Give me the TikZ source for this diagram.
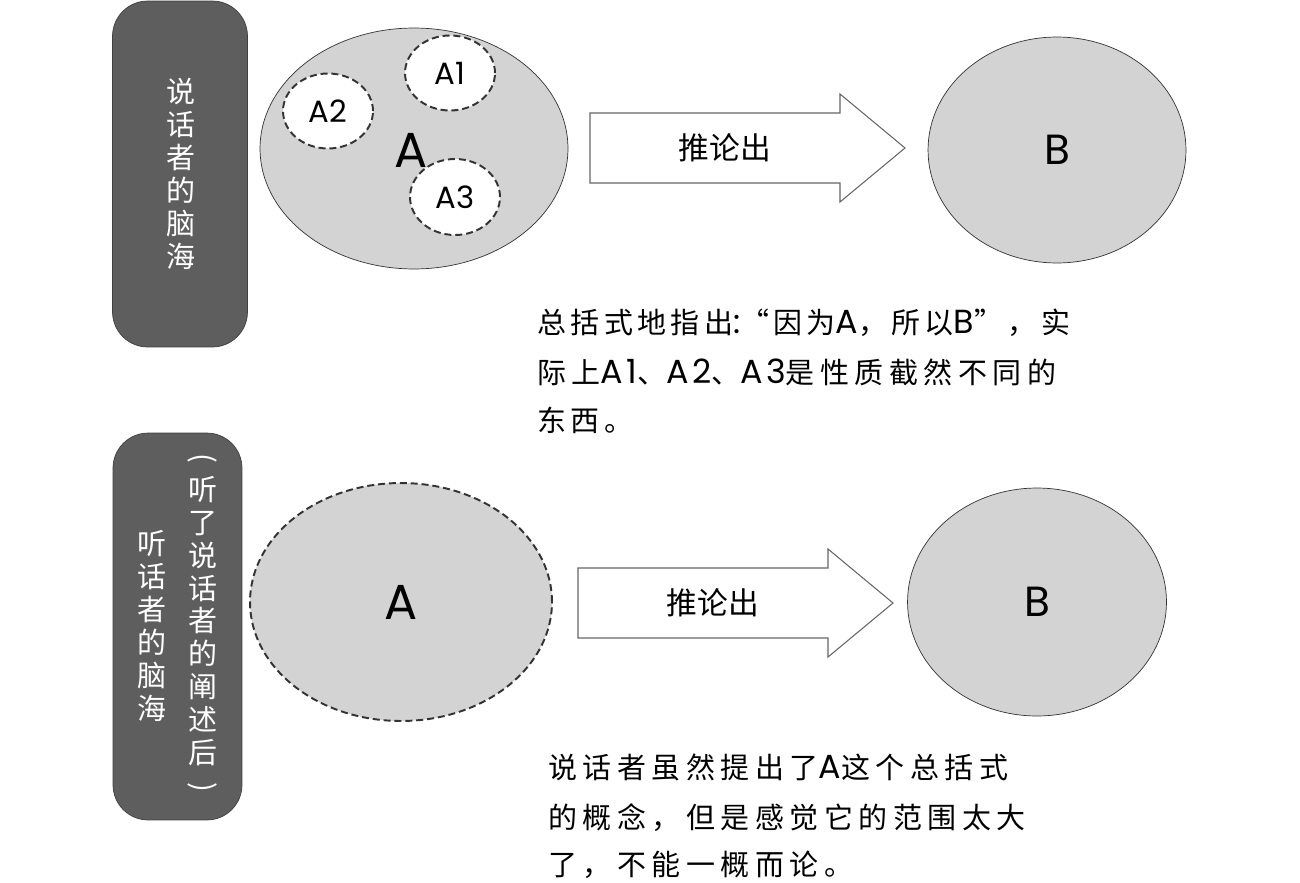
\documentclass[tikz,border=0pt]{standalone}
\usepackage{fontspec}
\setmainfont{Noto Sans CJK SC}
\newfontfamily\notefont[LetterSpace=15]{Noto Sans CJK SC}
\newfontfamily\widenote[LetterSpace=19]{Noto Sans CJK SC}
\newfontfamily\latin{Poppins}
\newfontfamily\notelatin[LetterSpace=10]{Poppins}
\newcommand{\lt}[1]{{\notelatin\fontsize{19}{20}\selectfont #1}}
\usepackage{tikz}
\usetikzlibrary{shapes.geometric}
\definecolor{brainfill}{HTML}{5F5E5F}
\definecolor{setfill}{HTML}{D3D3D3}
\tikzset{
  brainbox/.style  = {draw=black!75,fill=brainfill,rounded corners=20pt,inner sep=0pt},
  vertext/.style   = {align=center,text=white,inner sep=0pt,font=\fontsize{16.5}{18.7}\selectfont},
  setnode/.style   = {ellipse,draw=black!80,fill=setfill,inner sep=0pt},
  dashset/.style   = {dash pattern=on 4pt off 2.2pt,line width=1.1pt},
  subset/.style    = {setnode,dashset,fill=white,minimum width=1.8cm,minimum height=1.5cm,
                      font=\latin\fontsize{17.5}{20}\selectfont},
  bigletter/.style = {font=\latin\fontsize{28}{30}\selectfont},
  blockarr/.style  = {draw=black!60,fill=white,line width=0.6pt},
  arrlabel/.style  = {font=\fontsize{17.5}{20}\selectfont},
  noteline/.style  = {anchor=base west,inner sep=0pt,font=\notefont\fontsize{16.5}{20}\selectfont},
  widenote/.style  = {noteline,font=\widenote\fontsize{16.5}{20}\selectfont}
}
\newcommand{\inferarrow}[3]{%
  \draw[blockarr] (#2,#3-35) -- ++(250,0) -- ++(0,-19) -- ++(65,54) -- ++(-65,54)
    -- ++(0,-19) -- ++(-250,0) -- cycle;
  \node[arrlabel] (#1) at (#2+135,#3) {推论出};
}
\newcommand{\vparen}[1]{\rotatebox[origin=c]{-90}{#1}}

\begin{document}
\begin{tikzpicture}[x=0.02cm,y=-0.02cm]
  \useasboundingbox (0,0) rectangle (1300,882);
  % speaker
  \node[brainbox,minimum width=2.7cm,minimum height=6.92cm] (brain1) at (180,174) {};
  \node[vertext] (brain1txt) at (181,174) {说\\话\\者\\的\\脑\\海};
  \node[setnode,minimum width=6.16cm,minimum height=4.82cm] (setA1) at (414,148.5) {};
  \node[bigletter] (labA1) at (411,150) {A};
  \node[subset] (subA1) at (450,73)  {A1};
  \node[subset] (subA2) at (328,111) {A2};
  \node[subset,minimum height=1.52cm] (subA3) at (455,197) {A3};
  \inferarrow{infer1}{590}{148}
  \node[setnode,minimum width=5.16cm,minimum height=4.52cm,font=\latin\fontsize{24}{26}\selectfont] (setB1) at (1057,150) {B};
  \node[noteline] (note1a) at (537,333) {总括式地指出\lt{:}“因为\lt{A}，所以\lt{B}”，实};
  \node[widenote] (note1b) at (537,383) {际上\lt{A1}、\lt{A2}、\lt{A3}是性质截然不同的};
  \node[noteline] (note1c) at (537,431) {东西。};
  % listener
  \node[brainbox,minimum width=2.58cm,minimum height=7.74cm] (brain2) at (177.5,626.5) {};
  \node[vertext] (brain2txt) at (152,626) {听\\话\\者\\的\\脑\\海};
  \node[vertext] (brain2sub) at (203,625) {\vparen{(}\\听\\了\\说\\话\\者\\的\\阐\\述\\后\\\vparen{)}};
  \node[setnode,dashset,minimum width=6.04cm,minimum height=4.76cm,bigletter] (setA2) at (401,602) {A};
  \inferarrow{infer2}{578}{603}
  \node[setnode,minimum width=5.18cm,minimum height=4.56cm,font=\latin\fontsize{24}{26}\selectfont] (setB2) at (1037,602) {B};
  \node[widenote] (note2a) at (548,778) {说话者虽然提出了\lt{A}这个总括式};
  \node[widenote] (note2b) at (548,828) {的概念，但是感觉它的范围太大};
  \node[widenote] (note2c) at (548,875) {了，不能一概而论。};
\end{tikzpicture}
\end{document}
